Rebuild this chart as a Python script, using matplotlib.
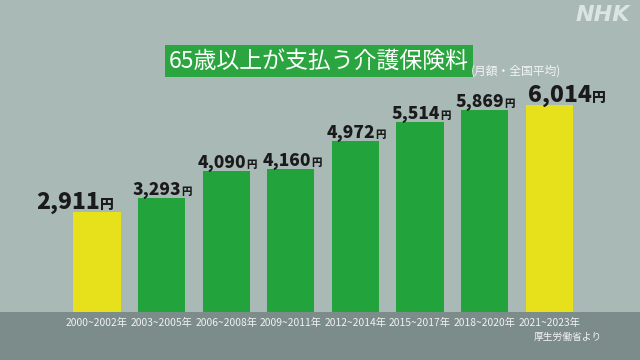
import matplotlib
matplotlib.use("Agg")
import matplotlib.pyplot as plt
from matplotlib.patches import Rectangle

periods = ["2000~2002年", "2003~2005年", "2006~2008年", "2009~2011年",
           "2012~2014年", "2015~2017年", "2018~2020年", "2021~2023年"]
values = [2911, 3293, 4090, 4160, 4972, 5514, 5869, 6014]
highlight = [True, False, False, False, False, False, False, True]
title = "65歳以上が支払う介護保険料"
subtitle = "(月額・全国平均)"
source = "厚生労働省より"
unit = "円"

plt.rcParams['font.family'] = ['Noto Sans CJK JP', 'DejaVu Sans']

BG = "#a8b9b6"
BAND = "#7b8c8b"
GREEN = "#22a33b"
YELLOW = "#e7e11c"

W, H = 640, 360
fig = plt.figure(figsize=(6.4, 3.6), dpi=100, facecolor=BG)

fig.patches.append(Rectangle((0, 0), 1, (H - 312) / H, transform=fig.transFigure,
                             facecolor=BAND, edgecolor="none", zorder=-5))

base_px = 312
scale = 0.03448
spacing = 64.6
c0 = 97
ax = fig.add_axes([0, (H - base_px) / H, 1, base_px / H])
ax.set_facecolor("none")
ax.set_zorder(2)
ax.set_xlim(-c0 / spacing, (W - c0) / spacing)
ax.set_ylim(0, base_px / scale)
ax.axis("off")

colors = [YELLOW if h else GREEN for h in highlight]
xs = list(range(len(values)))
ax.bar(xs, values, width=0.73, color=colors, zorder=2)

PT = 0.72
for i, (v, h) in enumerate(zip(values, highlight)):
    if h:
        dx = 3 if i == 0 else 43
        fs_num, fs_unit, dy = 16.5, 10, 3
    else:
        dx = 20
        fs_num, fs_unit, dy = 12.5, 7.5, 3
    ax.annotate(f"{v:,}", (i, v), xytext=(dx * PT, dy * PT), textcoords="offset points",
                ha="right", va="baseline", fontsize=fs_num, fontweight="heavy",
                color="#1a1a1a", annotation_clip=False)
    ax.annotate(unit, (i, v), xytext=(dx * PT, dy * PT), textcoords="offset points",
                ha="left", va="baseline", fontsize=fs_unit, fontweight="heavy",
                color="#1a1a1a", annotation_clip=False)

for i, p in enumerate(periods):
    ax.annotate(p, (i, 0), xytext=(0, -10.5 * PT), textcoords="offset points",
                ha="center", va="center", fontsize=7.4, color="#f2f2f2",
                annotation_clip=False)

fig.text(568 / W, 1 - 337 / H, source, ha="center", va="center",
         fontsize=7, color="#f2f2f2")

fig.text(319 / W, 1 - 61 / H, title, ha="center", va="center", fontsize=16.5,
         color="white",
         bbox=dict(boxstyle="square,pad=0.18", facecolor="#2aa53f", edgecolor="none"))
fig.text(471 / W, 1 - 71 / H, subtitle, ha="left", va="center", fontsize=8.5,
         color="#f4f4f4")

fig.text(630 / W, 1 - 15 / H, "NHK", ha="right", va="center", fontsize=16,
         fontweight="bold", fontstyle="italic", color="#e6ecea", alpha=0.85,
         family="DejaVu Sans")

fig.savefig("out.png", dpi=100, facecolor=BG)
